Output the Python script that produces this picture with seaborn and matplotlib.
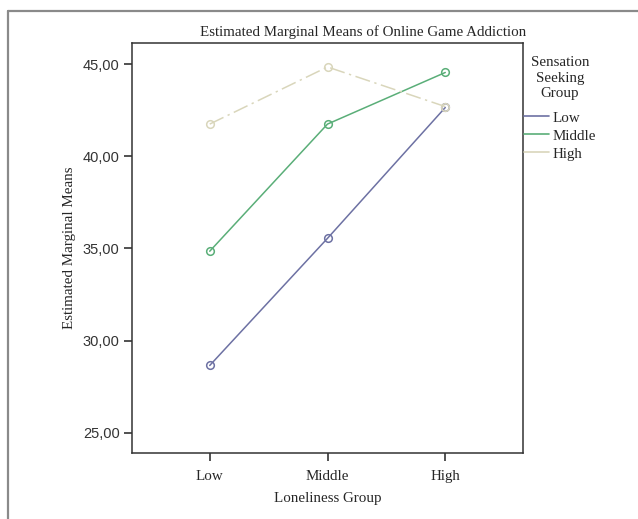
import numpy as np
import pandas as pd
import matplotlib
matplotlib.use("Agg")
import matplotlib.pyplot as plt
import seaborn as sns
from matplotlib.lines import Line2D
from matplotlib.ticker import FuncFormatter

# Data
loneliness = ["Low", "Middle", "High"]
sensation_groups = ["Low", "Middle", "High"]
means_low = [28.65, 35.55, 42.65]
means_middle = [34.85, 41.75, 44.55]
means_high = [41.75, 44.85, 42.70]
y_ticks = [25, 30, 35, 40, 45]

df = pd.DataFrame({
    "Loneliness Group": loneliness * 3,
    "Sensation Seeking Group": ["Low"] * 3 + ["Middle"] * 3 + ["High"] * 3,
    "Mean": means_low + means_middle + means_high,
})

sns.set_style("white")
serif = ["Liberation Serif", "DejaVu Serif"]
sans = ["Liberation Sans", "DejaVu Sans"]
fs = 10.8

palette = {"Low": "#6d71a3", "Middle": "#5aae78", "High": "#d9d6bb"}
dashes = {"Low": "", "Middle": "", "High": (10, 3, 1.5, 3)}

fig = plt.figure(figsize=(6.38, 5.19), dpi=100)
ax = fig.add_axes([132 / 638, 1 - 453 / 519, (523 - 132) / 638, (453 - 43) / 519])

sns.lineplot(data=df, x="Loneliness Group", y="Mean",
             hue="Sensation Seeking Group", style="Sensation Seeking Group",
             hue_order=sensation_groups, style_order=sensation_groups,
             palette=palette, dashes=dashes, markers=False,
             linewidth=1.1, ax=ax, legend=False, sort=False)

# hollow circle markers like SPSS
for line in ax.lines:
    c = line.get_color()
    line.set_marker("o")
    line.set_markersize(5.5)
    line.set_markerfacecolor("none")
    line.set_markeredgecolor(c)
    line.set_markeredgewidth(1.1)

ax.set_xlim(-0.66, 2.66)
ax.set_ylim(23.9, 46.15)
ax.set_xticks(range(len(loneliness)))
ax.set_xticklabels(loneliness, fontfamily=serif, fontsize=fs)
ax.set_yticks(y_ticks)
ax.yaxis.set_major_formatter(FuncFormatter(lambda v, p: f"{v:.2f}".replace(".", ",")))
for lab in ax.get_yticklabels():
    lab.set_fontfamily(sans)
    lab.set_fontsize(10.5)
    lab.set_color("#333333")

ax.tick_params(axis="both", direction="out", length=6, width=1.2, color="#333333",
               left=True, bottom=True, pad=3)
ax.tick_params(axis="x", pad=6)
for sp in ax.spines.values():
    sp.set_visible(True)
    sp.set_color("#333333")
    sp.set_linewidth(1.1)

ax.set_xlabel("Loneliness Group", fontfamily=serif, fontsize=fs, labelpad=7)
ax.set_ylabel("Estimated Marginal Means", fontfamily=serif, fontsize=fs, labelpad=5)
ax.set_title("Estimated Marginal Means of Online Game Addiction",
             fontfamily=serif, fontsize=fs, pad=5, x=(363 - 132) / 391)

handles = [Line2D([0], [0], color=palette[g], lw=1.2) for g in sensation_groups]
leg = ax.legend(handles, sensation_groups, title="Sensation\nSeeking\nGroup",
                loc="upper left", bbox_to_anchor=(1.002, 0.968), frameon=False,
                handlelength=1.7, handletextpad=0.2, labelspacing=0.3,
                borderaxespad=0, borderpad=0,
                prop={"family": serif, "size": fs},
                title_fontproperties={"family": serif, "size": fs})
leg.get_title().set_linespacing(1.25)
leg.get_title().set_multialignment("center")
leg._legend_box.align = "center"
leg._legend_box.sep = 8

# outer gray frame
fig.add_artist(Line2D([8 / 638, 8 / 638], [0, 1 - 11 / 519], transform=fig.transFigure,
                      color="#8a8a8a", lw=1.6))
fig.add_artist(Line2D([8 / 638, 1], [1 - 11 / 519, 1 - 11 / 519], transform=fig.transFigure,
                      color="#8a8a8a", lw=1.6))

fig.savefig("out.png", dpi=100)
